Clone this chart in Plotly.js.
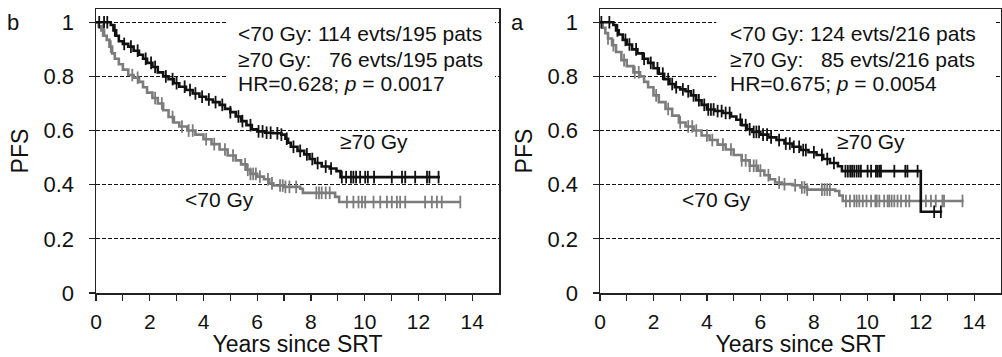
<!DOCTYPE html>
<html><head><meta charset="utf-8">
<script src="https://cdn.plot.ly/plotly-3.0.1.min.js"></script>
<style>html,body{margin:0;padding:0;background:#fff}</style>
</head><body><div id="chart" style="width:1002px;height:357px"></div>
<script>
// ---- Panel b (left) ----
const bHighT = [0,0.55,0.65,0.75,0.85,1.0,1.2,1.4,1.6,1.75,1.9,2.1,2.3,2.5,2.7,2.9,3.1,3.35,3.6,3.85,4.1,4.35,4.6,4.8,5.0,5.2,5.4,5.6,5.8,6.0,6.3,6.6,6.9,7.05,7.15,7.25,7.5,7.75,7.95,8.15,8.4,8.7,8.95,9.1,12.8];
const bHighS = [1.0,0.99,0.97,0.95,0.93,0.92,0.91,0.895,0.88,0.865,0.85,0.835,0.815,0.80,0.79,0.775,0.762,0.75,0.737,0.725,0.715,0.705,0.695,0.68,0.668,0.652,0.635,0.62,0.605,0.597,0.592,0.59,0.585,0.57,0.555,0.54,0.525,0.512,0.495,0.48,0.467,0.46,0.45,0.428,0.428];
const bHighCens = [0.12,0.3,0.42,0.7,1.05,1.3,1.55,1.85,2.05,2.2,2.6,2.85,3.0,3.3,3.5,3.7,3.95,4.2,4.45,4.7,5.0,5.3,5.45,5.75,6.05,6.2,6.35,6.5,6.75,6.9,7.1,7.35,7.6,7.85,8.05,8.25,8.55,8.75,9.15,9.31,9.49,9.58,9.68,9.83,10.02,10.12,10.35,11.01,11.39,11.51,11.88,12.32,12.41,12.75];

const bLowT = [0,0.1,0.2,0.3,0.4,0.5,0.6,0.7,0.85,1.0,1.2,1.4,1.6,1.75,1.9,2.1,2.3,2.5,2.7,2.9,3.1,3.4,3.7,4.0,4.3,4.6,4.9,5.2,5.4,5.6,5.75,6.0,6.25,6.45,6.6,7.0,7.6,7.7,8.8,8.9,9.05,13.56];
const bLowS = [1.0,0.985,0.97,0.95,0.935,0.91,0.885,0.865,0.845,0.825,0.805,0.795,0.78,0.76,0.74,0.72,0.70,0.675,0.65,0.63,0.615,0.60,0.585,0.568,0.55,0.53,0.508,0.49,0.475,0.455,0.44,0.43,0.42,0.405,0.397,0.392,0.385,0.37,0.37,0.355,0.336,0.336];
const bLowCens = [0.25,0.55,1.35,1.55,2.2,2.45,2.85,3.2,3.45,3.6,4.1,4.4,4.8,5.1,5.55,5.65,5.75,5.85,5.95,6.1,6.4,6.55,6.85,6.95,7.05,7.2,7.45,8.2,8.3,8.4,8.55,8.7,9.34,9.58,9.77,9.9,10.02,10.33,10.58,10.83,11.01,11.2,11.32,11.51,12.25,12.5,12.69,12.87,13.56];

// ---- Panel a (right) ----
const aHighT = [0,0.5,0.6,0.7,0.85,1.0,1.2,1.4,1.6,1.8,2.0,2.2,2.4,2.6,2.8,3.0,3.2,3.4,3.6,3.8,4.0,4.3,4.6,4.9,5.1,5.3,5.5,5.7,6.0,6.3,6.6,6.9,7.2,7.5,7.8,8.1,8.35,8.6,8.9,9.05,12.0,12.8];
const aHighS = [1.0,0.99,0.97,0.955,0.935,0.918,0.90,0.885,0.865,0.85,0.83,0.81,0.79,0.772,0.76,0.752,0.745,0.73,0.712,0.695,0.678,0.672,0.665,0.652,0.64,0.62,0.605,0.595,0.585,0.575,0.565,0.552,0.54,0.528,0.52,0.51,0.495,0.48,0.468,0.45,0.30,0.30];
const aHighCens = [0.05,0.35,0.65,0.95,1.1,1.35,1.65,1.9,2.15,2.35,2.55,2.7,2.85,3.1,3.3,3.5,3.7,3.9,4.05,4.15,4.25,4.4,4.55,4.7,4.85,5.25,5.45,5.6,5.75,5.85,5.95,6.1,6.25,6.4,6.7,6.95,7.1,7.25,7.45,7.6,7.7,8.0,8.3,8.5,8.75,9.18,9.27,9.36,9.43,9.51,9.6,9.68,9.76,10.01,10.14,10.32,10.38,10.45,10.51,11.01,11.42,11.5,11.88,12.5,12.75];

const aLowT = [0,0.1,0.2,0.3,0.45,0.6,0.8,1.0,1.25,1.5,1.65,1.8,2.0,2.2,2.45,2.7,2.95,3.2,3.5,3.8,4.1,4.4,4.7,5.0,5.3,5.6,5.9,6.15,6.35,6.55,6.8,7.2,7.5,7.75,8.8,8.95,9.08,13.6];
const aLowS = [1.0,0.98,0.96,0.94,0.915,0.89,0.86,0.838,0.815,0.80,0.78,0.76,0.73,0.705,0.68,0.655,0.63,0.615,0.60,0.582,0.565,0.548,0.53,0.51,0.49,0.47,0.452,0.435,0.42,0.408,0.402,0.398,0.39,0.382,0.377,0.36,0.34,0.34];
const aLowCens = [0.3,0.5,0.9,1.3,1.45,2.1,2.55,3.0,3.3,3.45,3.6,4.0,4.2,4.6,4.9,5.3,5.45,5.6,5.75,5.85,6.0,6.3,6.7,6.9,7.3,7.55,7.65,7.75,8.3,8.4,8.5,8.6,9.2,9.35,9.51,9.6,9.7,9.83,9.97,10.14,10.3,10.35,10.45,10.63,10.76,10.82,10.91,11.01,11.13,11.26,11.44,11.57,12.0,12.19,12.38,12.56,12.81,12.87,13.56];

// tick labels
const xTickVals = [0,1,2,3,4,5,6,7,8,9,10,11,12,13,14];
const xTickText = ['0','','2','','4','','6','','8','','10','','12','','14'];
const yTickVals = [0,0.2,0.4,0.6,0.8,1];
const yTickText = ['0','0.2','0.4','0.6','0.8','1'];

// texts
const panelLabels = ['b','a'];
const statsB = ['<70 Gy: 114 evts/195 pats','≥70 Gy:\u00a0\u00a0\u00a076 evts/195 pats','HR=0.628; <i>p</i> = 0.0017'];
const statsA = ['<70 Gy: 124 evts/216 pats','≥70 Gy:\u00a0\u00a0\u00a085 evts/216 pats','HR=0.675; <i>p</i> = 0.0054'];

function stepAt(T, S, t){ let v = S[0]; for(let i=0;i<T.length;i++){ if(T[i] <= t) v = S[i]; } return v; }

const BLACK = '#111111', GRAY = '#7c7c7c';
const FONT = 'Liberation Sans, Arial, sans-serif';

function curve(T,S,color,xa,ya,w){
  return {x:T, y:S, xaxis:xa, yaxis:ya, mode:'lines', line:{shape:'hv', color:color, width:w}, hoverinfo:'skip', showlegend:false};
}
function cens(C,T,S,color,xa,ya){
  return {x:C, y:C.map(t=>stepAt(T,S,t)), xaxis:xa, yaxis:ya, mode:'markers',
    marker:{symbol:'line-ns-open', size:9, color:color, line:{color:color, width:1.8}}, hoverinfo:'skip', showlegend:false};
}

const data = [
  curve(bLowT,bLowS,GRAY,'x','y',2.6), cens(bLowCens,bLowT,bLowS,GRAY,'x','y'),
  curve(bHighT,bHighS,BLACK,'x','y',2.6), cens(bHighCens,bHighT,bHighS,BLACK,'x','y'),
  curve(aLowT,aLowS,GRAY,'x2','y2',2.6), cens(aLowCens,aLowT,aLowS,GRAY,'x2','y2'),
  curve(aHighT,aHighS,BLACK,'x2','y2',2.6), cens(aHighCens,aHighT,aHighS,BLACK,'x2','y2')
];

function xax(dom){
  return {domain:dom, range:[0,15], tickmode:'array', tickvals:xTickVals, ticktext:xTickText,
    ticks:'outside', ticklen:6, tickwidth:1.2, tickcolor:'#222', showline:true, linecolor:'#222', linewidth:1.5, mirror:true,
    showgrid:false, zeroline:false, tickfont:{family:FONT, size:21, color:'#111'}, ticklabelstandoff:3,
    title:{text:'Years since SRT', font:{family:FONT, size:23, color:'#111'}, standoff:1}};
}
function yax(dom){
  return {domain:dom, range:[0,1.049], tickmode:'array', tickvals:yTickVals, ticktext:yTickText,
    ticks:'outside', ticklen:6, tickwidth:1.2, tickcolor:'#222', showline:true, linecolor:'#222', linewidth:1.5, mirror:true,
    showgrid:true, gridcolor:'#111', gridwidth:1, griddash:'4px,2px', zeroline:false,
    tickfont:{family:FONT, size:22, color:'#111'}, ticklabelstandoff:10,
    title:{text:'PFS', font:{family:FONT, size:23, color:'#111'}, standoff:8}};
}

const yd = [64/357, 348/357];
const layout = {
  width:1002, height:357, margin:{l:0,r:0,t:0,b:0}, paper_bgcolor:'#fff', plot_bgcolor:'#fff',
  font:{family:FONT, color:'#111'},
  xaxis: Object.assign(xax([96/1002, 499/1002]), {anchor:'y'}),
  yaxis: Object.assign(yax(yd), {anchor:'x'}),
  xaxis2: Object.assign(xax([600/1002, 1001/1002]), {anchor:'y2'}),
  yaxis2: Object.assign(yax(yd), {anchor:'x2'}),
  shapes:[
    {type:'rect', xref:'x', yref:'y', x0:4.91, x1:14.85, y0:0.715, y1:1.04, fillcolor:'#fff', line:{width:0}, layer:'between'},
    {type:'rect', xref:'x2', yref:'y2', x0:4.35, x1:14.8, y0:0.715, y1:1.04, fillcolor:'#fff', line:{width:0}, layer:'between'}
  ],
  annotations:[]
};
const lineY = [0.960, 0.861, 0.772];
function addStats(lines, xa, ya, x0){
  lines.forEach((t,i)=>layout.annotations.push({text:t, xref:xa, yref:ya, x:x0, y:lineY[i], xanchor:'left', yanchor:'middle', showarrow:false, font:{family:FONT, size:21, color:'#111'}}));
}
addStats(statsB,'x','y',5.21);
addStats(statsA,'x2','y2',4.78);
function lab(t, xa, ya, x, y){ layout.annotations.push({text:t, xref:xa, yref:ya, x:x, y:y, xanchor:'center', yanchor:'middle', showarrow:false, font:{family:FONT, size:21, color:'#111'}}); }
lab('≥70 Gy','x','y',10.33,0.561); lab('<70 Gy','x','y',4.61,0.347);
lab('≥70 Gy','x2','y2',10.13,0.561); lab('<70 Gy','x2','y2',4.35,0.347);
layout.annotations.push({text:panelLabels[0], xref:'paper', yref:'paper', x:13/1002, y:1-23/357, xanchor:'center', yanchor:'middle', showarrow:false, font:{family:FONT, size:22, color:'#111'}});
layout.annotations.push({text:panelLabels[1], xref:'paper', yref:'paper', x:517/1002, y:1-23/357, xanchor:'center', yanchor:'middle', showarrow:false, font:{family:FONT, size:22, color:'#111'}});

Plotly.newPlot('chart', data, layout, {displayModeBar:false, staticPlot:true});
</script></body></html>
